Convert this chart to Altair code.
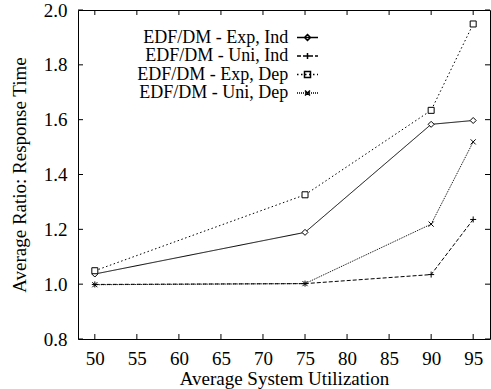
import altair as alt
import pandas as pd

series = ["EDF/DM - Exp, Ind", "EDF/DM - Uni, Ind", "EDF/DM - Exp, Dep", "EDF/DM - Uni, Dep"]
utilization = [50, 75, 90, 95]
exp_ind = [1.037, 1.189, 1.583, 1.597]
uni_ind = [0.999, 1.002, 1.035, 1.236]
exp_dep = [1.049, 1.326, 1.634, 1.949]
uni_dep = [0.998, 1.002, 1.219, 1.519]
x_ticks = [50, 55, 60, 65, 70, 75, 80, 85, 90, 95]
y_ticks = [0.8, 1.0, 1.2, 1.4, 1.6, 1.8, 2.0]
x_domain = [48, 97]
y_domain = [0.8, 2.0]

rows = []
for name, vals in zip(series, [exp_ind, uni_ind, exp_dep, uni_dep]):
    for u, v in zip(utilization, vals):
        rows.append({"s": name, "u": u, "v": v})
df = pd.DataFrame(rows)

W, H = 412, 329
FONT = "Liberation Serif"
TICK = 5

dashes = [[1, 0], [4, 2], [1.5, 2.5], [1, 1]]
markers = [
    "M0,-1L1,0L0,1L-1,0Z",
    "M-1,0H1M0,-1V1",
    "M-1,-1H1V1H-1Z",
    "M-0.85,-0.85L0.85,0.85M-0.85,0.85L0.85,-0.85",
]

# legend symbol paths (1 unit = 5 px), drawn to the right of the labels
C = 35.64
def dash_path(pat_px, half=2.1, unit=5.0):
    d, g = pat_px[0] / unit, pat_px[1] / unit
    if g == 0:
        return f"M{C - half:.2f},0H{C + half:.2f}"
    out, x = [], -half
    while x < half:
        e = min(x + d, half)
        out.append(f"M{C + x:.2f},0H{C + e:.2f}")
        x = e + g
    return "".join(out)

def leg_marker(kind):
    r = 0.6
    if kind == 0:
        return f"M{C:.2f},{-r}L{C + r:.2f},0L{C:.2f},{r}L{C - r:.2f},0Z"
    if kind == 1:
        return f"M{C - r:.2f},0H{C + r:.2f}M{C:.2f},{-r}V{r}"
    if kind == 2:
        return f"M{C - r:.2f},{-r}H{C + r:.2f}V{r}H{C - r:.2f}Z"
    q = 0.5
    return f"M{C - q:.2f},{-q}L{C + q:.2f},{q}M{C - q:.2f},{q}L{C + q:.2f},{-q}"

leg_paths = [dash_path(p) + leg_marker(i) for i, p in enumerate(dashes)]

xs = alt.Scale(domain=x_domain, nice=False, zero=False)
ys = alt.Scale(domain=y_domain, nice=False, zero=False)

base = alt.Chart(df)

lines = base.mark_line(color="black", strokeWidth=1).encode(
    x=alt.X("u:Q", scale=xs, axis=alt.Axis(values=x_ticks, ticks=False, tickSize=0, domain=False,
                                           grid=False, labelPadding=10, title="Average System Utilization",
                                           titlePadding=1)),
    y=alt.Y("v:Q", scale=ys, axis=alt.Axis(values=y_ticks, format=".1f", ticks=False, tickSize=0,
                                           domain=False, grid=False, labelPadding=11,
                                           title="Average Ratio: Response Time", titlePadding=14)),
    strokeDash=alt.StrokeDash("s:N", scale=alt.Scale(domain=series, range=dashes), legend=None),
)

points = base.mark_point(size=36, filled=False, stroke="black", fill="white", strokeWidth=1, opacity=1).encode(
    x="u:Q", y="v:Q",
    shape=alt.Shape("s:N", scale=alt.Scale(domain=series, range=markers), legend=None),
)

legend_layer = base.transform_calculate(s2="datum.s").mark_point(
    size=0, filled=False, stroke="black", fill="white", strokeWidth=1, opacity=1
).encode(
    x="u:Q", y="v:Q",
    shape=alt.Shape("s2:N", scale=alt.Scale(domain=series, range=leg_paths),
                    legend=alt.Legend(title=None, orient="none", legendX=42.3, legendY=18.5,
                                      labelAlign="right", labelOffset=150,
                                      labelFont=FONT, labelFontSize=18, labelLimit=0,
                                      padding=0, rowPadding=0.5)),
)

# inward tick marks on all four sides
bottom_df = pd.DataFrame({"u": x_ticks, "v": [y_domain[0]] * len(x_ticks)})
top_df = pd.DataFrame({"u": x_ticks, "v": [y_domain[1]] * len(x_ticks)})
left_df = pd.DataFrame({"u": [x_domain[0]] * len(y_ticks), "v": y_ticks})
right_df = pd.DataFrame({"u": [x_domain[1]] * len(y_ticks), "v": y_ticks})

def vtick(d, off):
    return alt.Chart(d).mark_rule(color="black", strokeWidth=1, y2Offset=off).encode(
        x="u:Q", y="v:Q", y2="v:Q")

def htick(d, off):
    return alt.Chart(d).mark_rule(color="black", strokeWidth=1, x2Offset=off).encode(
        x="u:Q", x2="u:Q", y="v:Q")

ticks = [vtick(bottom_df, -TICK), vtick(top_df, TICK), htick(left_df, TICK), htick(right_df, -TICK)]

chart = alt.layer(lines, points, legend_layer, *ticks).resolve_scale(
    shape="independent"
).properties(
    width=W, height=H,
    background="white",
    autosize=alt.AutoSizeParams(type="none"),
    padding={"left": 78, "top": 10, "right": 1, "bottom": 50},
).configure_view(stroke="black", strokeWidth=1).configure_axis(
    labelFont=FONT, labelFontSize=19, labelColor="black",
    titleFont=FONT, titleFontSize=19, titleFontWeight="normal", titleColor="black",
)

chart.save("out.html", embed_options={"renderer": "svg", "actions": False})
